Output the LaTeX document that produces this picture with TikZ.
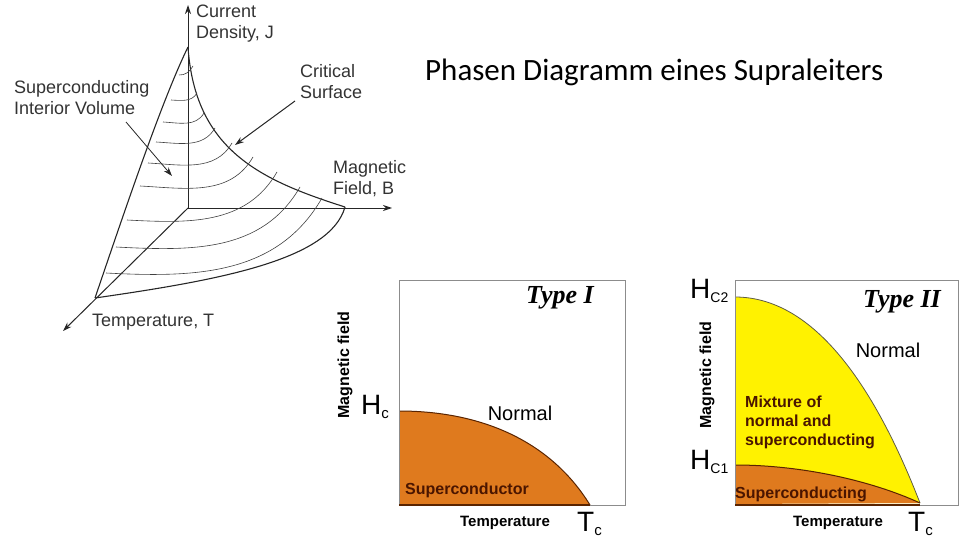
\documentclass[tikz,border=0pt]{standalone}
\usepackage{fontspec}
\setmainfont{Liberation Sans}
\newfontfamily\titlefont{Carlito}
\newfontfamily\serifb{Liberation Serif}
\usetikzlibrary{arrows.meta}
\definecolor{orng}{HTML}{DF7A1E}
\definecolor{yell}{HTML}{FFF200}
\definecolor{brn}{HTML}{5A2400}
\definecolor{dtxt}{HTML}{4A1500}
\begin{document}
\begin{tikzpicture}[x=1pt,y=-1pt,
  lab/.style={font=\fontsize{18}{21}\selectfont,text=black!80,align=left,inner sep=0},
  arc/.style={draw=black!75,line width=0.6pt},
  bnd/.style={draw=black!85,line width=1.1pt},
  ax/.style={draw=black!85,line width=1pt,-{Stealth[length=9pt,width=6pt]}},
  box/.style={draw=black!45,line width=1pt},
  sm/.style={font=\bfseries\fontsize{16}{19}\selectfont,inner sep=0},
  big/.style={font=\fontsize{28}{28}\selectfont,inner sep=0},
  typ/.style={font=\serifb\bfseries\itshape\fontsize{26}{26}\selectfont,inner sep=0}]
\useasboundingbox (0,0) rectangle (960,540);
% 3D critical surface
\coordinate (O) at (188,208);
\coordinate (Jt) at (188,5);
\coordinate (Bt) at (392,208);
\coordinate (Tt) at (63,331);
\coordinate (J) at (188,47);
\coordinate (B) at (345,207);
\coordinate (T) at (95,298);
\draw[ax] (O) -- (Jt);
\draw[ax] (O) -- (Bt);
\draw[ax] (O) -- (Tt);
\draw[bnd] (T) .. controls (125,210) and (162,100) .. (J);
\draw[bnd] (J) .. controls (195,150) and (260,180) .. (B);
\draw[bnd] (T) .. controls (220,280) and (330,260) .. (B);
\foreach \a/\b/\c/\d in {179/75/193/66, 171/100/197/93, 163/122/204/113, 156/142/215/128,
   148/163/232/143, 140/186/253/157, 127/220/277/172, 116/247/300/187, 106/273/322/198}
  \draw[arc] (\a,\b) to[out=-3,in=-120] (\c,\d);
\node[lab,anchor=north west] (lj) at (196,5) {Current\\Density, J};
\node[lab,anchor=north west] (lb) at (333,160) {Magnetic\\Field, B};
\node[lab,anchor=north west] (lt) at (92,314) {Temperature, T};
\node[lab,anchor=north west] (lv) at (14,80) {Superconducting\\Interior Volume};
\node[lab,anchor=north west] (ls) at (300,64) {Critical\\Surface};
\coordinate (pv) at (172,176);
\coordinate (ps) at (235,145);
\draw[ax,line width=0.8pt] (126,122) -- (pv);
\draw[ax,line width=1pt] (295,101) -- (ps);
% title
\node[font=\titlefont\fontsize{31}{31}\selectfont,anchor=west,inner sep=0] (title) at (425,72) {Phasen Diagramm eines Supraleiters};
% Type I
\fill[orng] (399,411) .. controls (480,411) and (550,440) .. (590,505) -- (399,505) -- cycle;
\draw[brn,line width=1pt] (399,411) .. controls (480,411) and (550,440) .. (590,505);
\draw[box] (399,280) rectangle (625,505);
\draw[brn,line width=1.2pt] (399,505) -- (590,505);
\node[typ] (t1) at (560,298) {Type I};
\node[font=\fontsize{20}{20}\selectfont,inner sep=0] (n1) at (520,413) {Normal};
\node[sm,text=dtxt,anchor=west] (s1) at (405,490) {Superconductor};
\node[sm,rotate=90] (m1) at (345,365) {Magnetic field};
\node[big,anchor=west] (hc) at (361,407) {H\textsubscript{\fontsize{15}{15}\selectfont c}};
\node[sm,font=\bfseries\fontsize{15}{17}\selectfont] (tp1) at (505,523) {Temperature};
\node[big,anchor=west] (tc1) at (577,524) {T\textsubscript{\fontsize{15}{15}\selectfont c}};
% Type II
\fill[yell] (735,297) .. controls (820,297) and (880,400) .. (920,503) -- (735,503) -- cycle;
\draw[black!60!yellow!70!black,line width=0.8pt] (735,297) .. controls (820,297) and (880,400) .. (920,503);
\fill[orng] (735,465) .. controls (800,465) and (870,480) .. (920,503) -- (735,504) -- cycle;
\draw[brn,line width=1pt] (735,465) .. controls (800,465) and (870,480) .. (920,503);
\draw[box] (735,280) rectangle (958,505);
\draw[brn,line width=1.2pt] (735,505) -- (920,505);
\node[typ] (t2) at (902,302) {Type II};
\node[font=\fontsize{20}{20}\selectfont,inner sep=0] (n2) at (888,350) {Normal};
\node[sm,text=dtxt,anchor=north west,align=left,font=\bfseries\fontsize{16}{19}\selectfont] (mx) at (745,396) {Mixture of\\normal and\\superconducting};
\node[sm,text=dtxt,anchor=west] (s2) at (735,494) {Superconducting};
\node[sm,rotate=90] (m2) at (707,375) {Magnetic field};
\node[big,anchor=west] (hc2) at (690,291) {H\textsubscript{\fontsize{14}{14}\selectfont C2}};
\node[big,anchor=west] (hc1) at (690,462) {H\textsubscript{\fontsize{14}{14}\selectfont C1}};
\node[sm,font=\bfseries\fontsize{15}{17}\selectfont] (tp2) at (838,523) {Temperature};
\node[big,anchor=west] (tc2) at (908,524) {T\textsubscript{\fontsize{15}{15}\selectfont c}};
\end{tikzpicture}
\end{document}
